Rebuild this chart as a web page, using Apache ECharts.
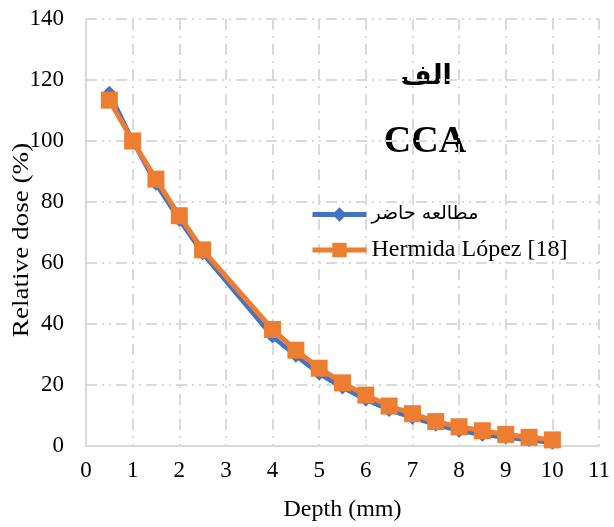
<!DOCTYPE html>
<html>
<head>
<meta charset="utf-8">
<script src="https://cdn.jsdelivr.net/npm/echarts@6/dist/echarts.min.js"></script>
<style>
  html, body { margin: 0; padding: 0; background: #fff; }
  #chart { width: 614px; height: 527px; }
</style>
</head>
<body>
<div id="chart"></div>
<script>
// Depth (mm) at which the relative dose was sampled
const depths = [0.5, 1, 1.5, 2, 2.5, 4, 4.5, 5, 5.5, 6, 6.5, 7, 7.5, 8, 8.5, 9, 9.5, 10];

// Relative dose (%) — present study
const presentStudy = [115.8, 100, 86, 74.2, 63.2, 35.9, 29.6, 23.7, 19.2, 15.2, 11.8, 9.3, 7.0, 5.0, 3.7, 2.8, 2.0, 1.1];

// Relative dose (%) — Hermida López [18]
const hermidaLopez = [113.4, 100, 87.5, 75.5, 64.3, 38.2, 31.4, 25.5, 20.7, 16.7, 13.1, 10.6, 8.0, 6.3, 5.0, 3.8, 2.85, 2.0];

const seriesNames = ['مطالعه حاضر', 'Hermida López [18]'];
const panelLabel = 'الف';
const panelTitle = 'CCA';
const xTitle = 'Depth (mm)';
const yTitle = 'Relative dose (%)';

const serif = '"Liberation Serif", "Times New Roman", "DejaVu Serif", serif';
const arabicFont = '"DejaVu Sans", sans-serif';
const gridColor = '#d9d9d9';

const pairs = (ys) => depths.map((x, i) => [x, ys[i]]);

const chart = echarts.init(document.getElementById('chart'), null, { renderer: 'canvas' });

chart.setOption({
  backgroundColor: '#ffffff',
  animation: false,
  grid: { left: 86, right: 15, top: 19, bottom: 81, containLabel: false, outerBoundsMode: 'none' },
  xAxis: {
    type: 'value',
    min: 0, max: 11, interval: 1,
    name: xTitle,
    nameLocation: 'middle',
    nameGap: 52,
    nameTextStyle: { fontFamily: serif, fontSize: 24, color: '#000' },
    axisLine: { show: true, lineStyle: { color: gridColor, width: 2 } },
    axisTick: { show: false },
    axisLabel: { fontFamily: serif, fontSize: 23, color: '#000', margin: 13 },
    splitLine: { show: true, lineStyle: { color: gridColor, width: 2, type: [11, 6, 2, 6] } }
  },
  yAxis: {
    type: 'value',
    min: 0, max: 140, interval: 20,
    axisLine: { show: true, lineStyle: { color: gridColor, width: 2 } },
    axisTick: { show: false },
    axisLabel: { fontFamily: serif, fontSize: 23, color: '#000', margin: 22 },
    splitLine: { show: true, lineStyle: { color: gridColor, width: 2, type: [11, 5, 2, 5, 2, 5] } }
  },
  legend: {
    left: 305, top: 200,
    orient: 'vertical',
    itemWidth: 54, itemHeight: 18,
    itemGap: 14,
    lineStyle: { width: 5 },
    formatter: (name) => (name === seriesNames[0] ? '{ar|' + name + '}' : name),
    textStyle: {
      fontFamily: serif, fontSize: 24, color: '#000',
      rich: { ar: { fontFamily: arabicFont, fontSize: 19, color: '#000' } }
    },
    data: seriesNames
  },
  graphic: [
    {
      // vertical axis title, slightly elongated along its reading direction
      type: 'text', x: 22, y: 240, rotation: Math.PI / 2, scaleX: 1.18,
      style: {
        text: yTitle, fontFamily: serif, fontSize: 23,
        fill: '#000', align: 'center', verticalAlign: 'middle'
      }
    },
    {
      type: 'text', x: 426, y: 77,
      style: {
        text: panelLabel, fontFamily: arabicFont, fontWeight: 'bold', fontSize: 27,
        fill: '#000', align: 'center', verticalAlign: 'middle'
      }
    },
    {
      type: 'text', x: 425, y: 142,
      style: {
        text: panelTitle, fontFamily: serif, fontWeight: 'bold', fontSize: 38,
        fill: '#000', align: 'center', verticalAlign: 'middle'
      }
    }
  ],
  series: [
    {
      name: seriesNames[0],
      type: 'line',
      data: pairs(presentStudy),
      symbol: 'diamond',
      symbolSize: 14,
      lineStyle: { color: '#4472c4', width: 4.5 },
      itemStyle: { color: '#4472c4' },
      z: 2
    },
    {
      name: seriesNames[1],
      type: 'line',
      data: pairs(hermidaLopez),
      symbol: 'rect',
      symbolSize: 17,
      lineStyle: { color: '#ed7d31', width: 5 },
      itemStyle: { color: '#ed7d31' },
      z: 3
    }
  ]
});
</script>
</body>
</html>
